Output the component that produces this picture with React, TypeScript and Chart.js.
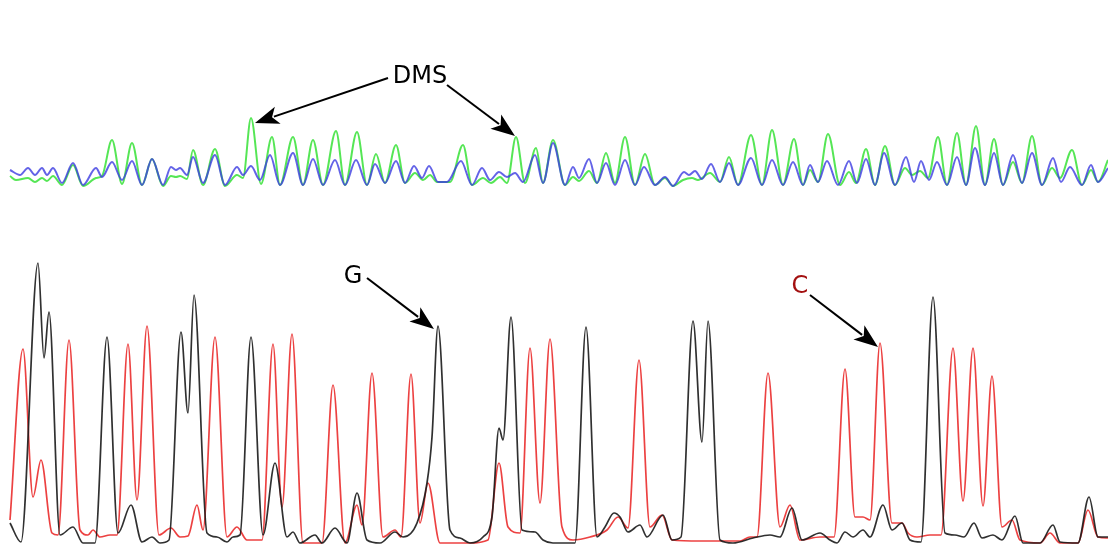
import { useEffect, useRef } from "react";
import { Chart, registerables } from "chart.js";

Chart.register(...registerables);

// Top panel (DMS-treated vs control): [scan position, signal]
const greenTrace: [number, number][] = [
  [10,12],[16,8],[28,10],[35,6],[42,10],[47,7],[53,12],[62,3],[73,23],[83,2],[96,10],[102,12],[112,48],[122,4],[132,45],[142,3],[152,29],[163,2],[171,12],[176,11],[180,12],[187,9],[193,38],[203,3],[215,39],[225,2],[237,13],[243,10],[251,70],[261,4],[272,51],[280,3],[293,51],[303,3],[313,48],[323,3],[336,57],[345,3],[357,56],[367,3],[376,34],[385,5],[396,43],[405,5],[415,15],[423,8],[430,13],[437,6],[450,6],[463,43],[472,3],[483,10],[491,5],[500,11],[507,5],[516,51],[525,5],[536,40],[543,5],[553,48],[565,3],[573,11],[579,7],[589,17],[597,5],[606,35],[615,5],[625,51],[635,3],[645,34],[655,3],[665,10],[673,2],[683,8],[692,10],[698,8],[710,15],[720,6],[729,31],[738,3],[751,53],[762,3],[772,58],[783,3],[794,49],[803,3],[810,18],[818,6],[828,54],[840,3],[849,16],[856,5],[866,39],[875,3],[885,42],[895,3],[905,20],[912,13],[920,17],[928,10],[938,51],[947,3],[957,55],[966,3],[976,62],[985,3],[994,49],[1003,3],[1013,26],[1022,5],[1032,52],[1042,3],[1052,20],[1060,10],[1072,38],[1082,3],[1091,18],[1098,6],[1108,28]
];

const blueTrace: [number, number][] = [
  [10,18],[20,13],[28,20],[35,13],[42,20],[47,13],[53,20],[62,5],[73,25],[83,3],[96,20],[102,11],[112,26],[122,8],[132,27],[142,3],[152,29],[163,3],[171,21],[176,18],[180,20],[187,13],[193,31],[203,5],[215,33],[225,3],[237,21],[243,13],[251,22],[260,8],[270,33],[280,3],[293,35],[303,3],[313,29],[323,3],[335,28],[345,3],[356,28],[367,3],[375,24],[385,5],[396,27],[405,5],[414,22],[422,10],[429,22],[438,6],[447,6],[461,27],[472,3],[482,20],[490,8],[499,16],[507,11],[515,15],[523,6],[535,33],[543,5],[553,45],[565,3],[573,21],[579,10],[589,29],[597,5],[606,25],[615,3],[625,28],[635,3],[644,21],[655,3],[665,11],[673,2],[684,16],[689,13],[695,17],[702,9],[711,24],[720,6],[729,25],[738,3],[751,30],[762,3],[772,28],[783,3],[793,26],[803,3],[810,23],[818,6],[827,27],[838,3],[849,27],[857,5],[866,29],[875,3],[884,35],[895,3],[906,31],[914,6],[921,27],[929,8],[937,26],[947,3],[957,31],[966,3],[975,40],[985,3],[994,35],[1003,3],[1013,33],[1022,5],[1032,35],[1042,3],[1053,30],[1061,6],[1070,21],[1082,3],[1091,23],[1098,6],[1108,20]
];

// Bottom panel (sequencing traces): [scan position, signal]
const redTrace: [number, number][] = [
  [10,25],[23,196],[33,48],[41,85],[52,12],[58,10],[69,205],[80,15],[88,10],[93,15],[100,8],[110,10],[117,10],[128,201],[137,45],[147,219],[159,10],[171,17],[180,8],[188,9],[197,40],[203,15],[215,208],[227,8],[237,18],[247,5],[262,5],[273,201],[282,38],[292,211],[303,2],[322,2],[333,160],[345,2],[357,40],[362,20],[372,172],[383,8],[395,15],[401,8],[411,171],[420,22],[428,62],[440,2],[470,2],[488,5],[499,82],[508,18],[520,12],[530,197],[540,42],[550,206],[562,18],[573,5],[590,8],[607,15],[618,28],[628,17],[639,185],[650,18],[662,30],[672,5],[700,4],[740,4],[750,8],[757,8],[768,172],[780,18],[790,40],[800,5],[820,8],[834,8],[845,176],[855,28],[863,28],[870,25],[880,202],[892,22],[902,22],[908,12],[917,8],[930,10],[941,10],[953,197],[963,44],[973,197],[983,39],[992,169],[1002,18],[1012,25],[1020,5],[1040,2],[1050,12],[1060,2],[1078,2],[1088,35],[1098,8],[1108,7]
];

const blackTrace: [number, number][] = [
  [10,22],[21,3],[38,282],[44,187],[49,233],[60,10],[73,18],[83,2],[95,2],[107,208],[118,12],[131,40],[142,3],[152,8],[160,2],[169,5],[181,213],[188,132],[194,250],[207,12],[217,8],[227,3],[233,8],[240,10],[251,208],[263,10],[275,82],[287,8],[293,13],[300,2],[315,10],[322,2],[335,17],[347,2],[357,52],[367,5],[380,2],[395,13],[403,8],[417,22],[427,62],[432,108],[438,219],[450,15],[460,7],[470,2],[483,8],[492,28],[499,117],[503,105],[511,228],[522,15],[535,13],[543,5],[553,2],[575,2],[586,218],[597,8],[605,18],[614,32],[620,28],[628,13],[640,20],[647,8],[663,30],[672,5],[681,8],[693,224],[702,103],[708,224],[720,5],[733,2],[753,7],[770,10],[780,8],[792,37],[802,5],[820,12],[830,5],[837,2],[845,13],[853,8],[863,15],[870,8],[883,40],[892,15],[902,22],[910,5],[921,3],[933,248],[945,12],[955,10],[964,8],[974,22],[982,7],[993,10],[1002,5],[1015,29],[1023,2],[1040,2],[1053,20],[1060,3],[1078,2],[1089,48],[1098,8],[1108,8]
];

type Arrow = { from: [number, number]; to: [number, number] };
type Note = { label: string; color: string; scale: string; at: [number, number]; arrows: Arrow[] };

const notes: Note[] = [
  { label: "DMS", color: "#000000", scale: "yTop", at: [420, 105],
    arrows: [ { from: [388, 110], to: [255, 65] }, { from: [447, 103], to: [515, 52] } ] },
  { label: "G", color: "#000000", scale: "yBot", at: [353, 262],
    arrows: [ { from: [367, 267], to: [434, 216] } ] },
  { label: "C", color: "#a31010", scale: "yBot", at: [800, 252],
    arrows: [ { from: [810, 250], to: [878, 198] } ] },
];

const toPts = (arr: [number, number][]) => arr.map(([x, y]) => ({ x, y }));

const notesPlugin = {
  id: "notes",
  afterDatasetsDraw(chart: any) {
    const ctx = chart.ctx as CanvasRenderingContext2D;
    const xs = chart.scales.x;
    ctx.save();
    for (const n of notes) {
      const ys = chart.scales[n.scale];
      ctx.font = "24px 'DejaVu Sans'";
      ctx.fillStyle = n.color;
      ctx.textAlign = "center";
      ctx.textBaseline = "alphabetic";
      ctx.fillText(n.label, xs.getPixelForValue(n.at[0]), ys.getPixelForValue(n.at[1]));
      for (const a of n.arrows) {
        const x1 = xs.getPixelForValue(a.from[0]);
        const y1 = ys.getPixelForValue(a.from[1]);
        const x2 = xs.getPixelForValue(a.to[0]);
        const y2 = ys.getPixelForValue(a.to[1]);
        const ang = Math.atan2(y2 - y1, x2 - x1);
        const len = 24, hw = 9;
        const bx = x2 - len * Math.cos(ang);
        const by = y2 - len * Math.sin(ang);
        ctx.strokeStyle = "#000000";
        ctx.fillStyle = "#000000";
        ctx.lineWidth = 2;
        ctx.beginPath();
        ctx.moveTo(x1, y1);
        ctx.lineTo(bx + 4 * Math.cos(ang), by + 4 * Math.sin(ang));
        ctx.stroke();
        ctx.beginPath();
        ctx.moveTo(x2, y2);
        ctx.lineTo(bx + hw * Math.sin(ang), by - hw * Math.cos(ang));
        ctx.lineTo(bx + 6 * Math.cos(ang), by + 6 * Math.sin(ang));
        ctx.lineTo(bx - hw * Math.sin(ang), by + hw * Math.cos(ang));
        ctx.closePath();
        ctx.fill();
      }
    }
    ctx.restore();
  },
};

export default function App() {
  const ref = useRef<HTMLCanvasElement | null>(null);
  useEffect(() => {
    if (!ref.current) return;
    const common = { pointRadius: 0, cubicInterpolationMode: "monotone" as const, fill: false };
    const chart = new Chart(ref.current, {
      type: "line",
      data: {
        datasets: [
          { ...common, borderWidth: 2, label: "blue", data: toPts(blueTrace), borderColor: "rgba(60,60,225,0.8)", yAxisID: "yTop" },
          { ...common, borderWidth: 1.7, label: "black", data: toPts(blackTrace), borderColor: "rgba(25,25,25,0.9)", yAxisID: "yBot" },
          { ...common, borderWidth: 2, label: "green", data: toPts(greenTrace), borderColor: "rgba(85,230,85,1)", yAxisID: "yTop" },
          { ...common, borderWidth: 1.7, label: "red", data: toPts(redTrace), borderColor: "rgba(235,55,55,0.95)", yAxisID: "yBot" },
        ],
      },
      options: {
        responsive: false,
        animation: false,
        devicePixelRatio: 1,
        layout: { padding: 0 },
        plugins: { legend: { display: false }, tooltip: { enabled: false } },
        scales: {
          x: { type: "linear", min: 0, max: 1108, display: false },
          yTop: { type: "linear", min: -358, max: 188, display: false },
          yBot: { type: "linear", min: -1, max: 545, display: false },
        },
      } as any,
      plugins: [notesPlugin],
    });
    return () => chart.destroy();
  }, []);
  return (
    <div style={{ position: "fixed", left: 0, top: 0, width: 1108, height: 546, background: "#ffffff" }}>
      <canvas ref={ref} width={1108} height={546} style={{ display: "block", width: 1108, height: 546 }} />
    </div>
  );
}
